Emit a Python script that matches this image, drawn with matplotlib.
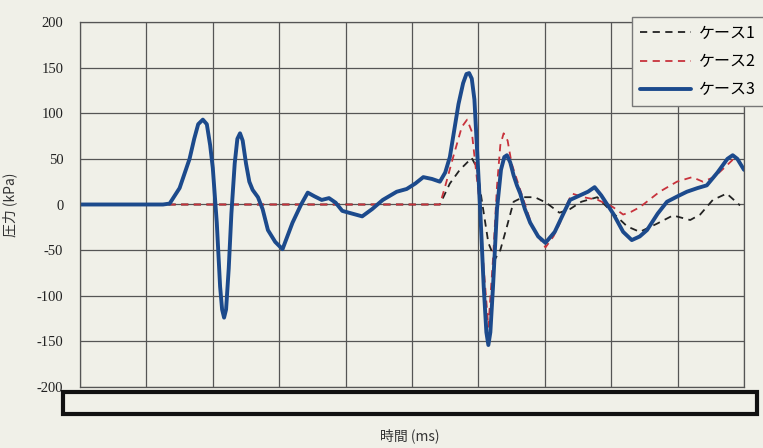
"""圧力波形（ケース1〜3）の比較グラフ。"""
import matplotlib

matplotlib.use("Agg")
import matplotlib.pyplot as plt
from matplotlib.patches import Rectangle

# ケース3（青実線）
case3_t = [0, 12.5, 13.5, 15, 16.5, 17.2, 17.8, 18.5, 19.1, 19.6, 20, 20.6, 21.1, 21.4,
           21.7, 22, 22.4, 22.8, 23.3, 23.7, 24.1, 24.5, 25, 25.5, 26, 26.8, 27.5, 28.3,
           29.4, 30.5, 32, 33.3, 34.3, 35.3, 36.4, 37.5, 38.5, 39.5, 40.5, 42.5, 44, 45.6,
           47.7, 49.2, 50.5, 51.7, 53, 54.2, 55, 55.7, 57, 57.7, 58.2, 58.6, 59, 59.4,
           59.8, 60.3, 60.8, 61.2, 61.5, 61.8, 62.2, 62.8, 63.4, 63.9, 64.3, 64.8, 65.3,
           65.8, 66.3, 67, 67.8, 69, 70.1, 71.5, 72.8, 73.8, 75.3, 76.5, 77.5, 78.5, 80.3,
           81.8, 83.1, 84.3, 85.4, 87, 88.4, 90, 91.4, 93, 94.4, 96, 97.5, 98.3, 99, 100]
case3_p = [0, 0, 1, 18, 50, 72, 88, 93, 88, 65, 40, -20, -90, -115,
           -124, -115, -70, -10, 45, 72, 78, 70, 45, 25, 16, 8, -5, -28,
           -41, -49, -20, 0, 13, 9, 5, 7, 2, -7, -9, -13, -5, 5,
           14, 17, 23, 30, 28, 25, 35, 52, 110, 133, 143, 144, 138, 115,
           60, -10, -90, -140, -154, -140, -90, -5, 38, 52, 54, 46, 32,
           21, 12, -5, -20, -35, -42, -30, -10, 5, 10, 14, 19, 10, -10,
           -30, -39, -35, -28, -10, 3, 9, 14, 18, 21, 35, 50, 54, 50, 38]

# ケース2（赤破線）
case2_t = [0, 54.2, 55, 56.2, 57.5, 58.3, 59, 59.6, 60.2, 60.8, 61.5, 62.2, 62.8, 63.3,
           63.8, 64.4, 65, 66.3, 68.2, 70.1, 71.3, 72.3, 73.3, 74.1, 75.8, 78, 80.3, 81.8,
           83, 84.3, 87.3, 89.9, 92.2, 93.8, 95.5, 97, 98.3, 99]
case2_p = [0, 0, 20, 52, 85, 93, 80, 40, 0, -70, -134, -60, 20, 65,
           78, 70, 45, 16, -26, -47, -35, -20, 0, 12, 8, 5, -3, -11,
           -8, -3, 14, 25, 30, 25, 30, 40, 49, 46]

# ケース1（黒破線）
case1_t = [0, 54.2, 55.7, 57.2, 59, 59.8, 60.5, 61.5, 62.5, 63.3, 64.3, 65.3, 66.7, 68.5,
           70.2, 72.2, 73.8, 75.5, 77.9, 79.8, 82.4, 84.3, 86.9, 89.3, 91.9, 93.4, 95.3,
           97.4, 99.4]
case1_p = [0, 0, 23, 38, 51, 40, 5, -42, -60, -50, -24, 3, 8, 8,
           2, -9, -5, 3, 8, -6, -24, -30, -21, -12, -17, -11, 5,
           12, -1]

y_ticks = [-200, -150, -100, -50, 0, 50, 100, 150, 200]
x_ticks = list(range(0, 101, 10))

paper = "#f0f0e8"
jp_font = ["Noto Sans CJK JP", "DejaVu Sans"]
num_font = ["Liberation Serif", "DejaVu Serif"]

fig = plt.figure(figsize=(7.63, 4.48), dpi=100, facecolor=paper)
ax = fig.add_axes([80 / 763, 61 / 448, 664 / 763, 365 / 448], facecolor=paper)

l1, = ax.plot(case1_t, case1_p, color="#222222", linestyle=(0, (4, 3)), linewidth=1.3)
l2, = ax.plot(case2_t, case2_p, color="#c8323c", linestyle=(0, (4, 3)), linewidth=1.3)
l3, = ax.plot(case3_t, case3_p, color="#1c4a8c", linewidth=2.8,
              solid_joinstyle="round", solid_capstyle="round")

ax.set_xlim(0, 100)
ax.set_ylim(-200, 200)
ax.set_xticks(x_ticks)
ax.set_yticks(y_ticks)
ax.set_xticklabels([])
ax.set_yticklabels([str(v) for v in y_ticks], family=num_font, fontsize=10.5, color="#222222")
ax.tick_params(length=0, pad=12)
ax.grid(True, color="#555555", linewidth=0.9)
for sp in ax.spines.values():
    sp.set_color("#555555")
    sp.set_linewidth(0.9)

ax.set_ylabel("圧力 (kPa)", family=jp_font, fontsize=10, color="#333333", labelpad=14)
fig.text(410 / 763, 1 - 436 / 448, "時間 (ms)", family=jp_font, fontsize=10,
         color="#333333", ha="center", va="center")

# 目盛ラベルを隠す枠
fig.patches.append(Rectangle((63 / 763, 1 - 414 / 448), 694 / 763, 22 / 448,
                             transform=fig.transFigure, facecolor=paper,
                             edgecolor="#111111", linewidth=3.0))

leg = fig.legend([l1, l2, l3], ["ケース1", "ケース2", "ケース3"],
                 loc="upper right", bbox_to_anchor=(1.012, 1 - 9 / 448),
                 prop={"family": jp_font, "size": 11.5}, handlelength=3.2,
                 handletextpad=0.5, labelspacing=0.7, borderpad=0.5,
                 fancybox=False, framealpha=1.0, facecolor=paper, edgecolor="#777777")

fig.savefig("out.png", dpi=100, facecolor=paper)
